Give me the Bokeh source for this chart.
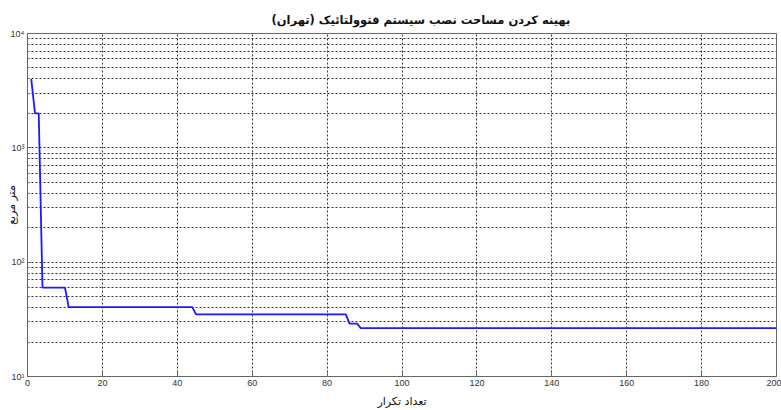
import math
from bokeh.plotting import figure
from bokeh.models import FixedTicker, Range1d
from bokeh.embed import file_html
from bokeh.resources import INLINE

# Data: iterations where the best value changes
iterations = [1, 2, 3, 4, 10, 11, 44, 45, 85, 86, 88, 89, 200]
area_m2 = [4000, 2000, 2000, 60, 60, 40.5, 40.5, 35, 35, 29, 29, 26.5, 26.5]

x_ticks = [0, 20, 40, 60, 80, 100, 120, 140, 160, 180, 200]
y_major = [10, 100, 1000, 10000]
y_minor = [20, 30, 40, 50, 60, 70, 80, 90,
           200, 300, 400, 500, 600, 700, 800, 900,
           2000, 3000, 4000, 5000, 6000, 7000, 8000, 9000]
y_labels = {10: "10¹", 100: "10²", 1000: "10³", 10000: "10⁴"}

title_text = "بهینه کردن مساحت نصب سیستم فتوولتائیک (تهران)"
x_label = "تعداد تکرار"
y_label = "متر مربع"

p = figure(width=781, height=410, y_axis_type="log",
           x_range=Range1d(0, 200), y_range=Range1d(10, 10000),
           output_backend="svg", toolbar_location=None,
           min_border_left=27, min_border_right=5,
           min_border_top=33, min_border_bottom=32)

p.background_fill_color = "white"
p.border_fill_color = "white"
p.outline_line_color = "#666666"
p.outline_line_width = 1

# title
p.title.text = title_text
p.title.align = "left"
p.title.offset = 244
p.title.text_font = "DejaVu Sans"
p.title.text_font_size = "11.5px"
p.title.text_font_style = "bold"
p.title.text_color = "#111111"
p.title.standoff = 14

axis_color = "#666666"
tick_font = "Liberation Sans"

xa = p.xaxis[0]
xa.ticker = FixedTicker(ticks=x_ticks)
xa.axis_line_color = axis_color
xa.major_tick_line_color = axis_color
xa.major_tick_in = 4
xa.major_tick_out = 0
xa.minor_tick_line_color = None
xa.major_label_text_font = tick_font
xa.major_label_text_font_size = "9px"
xa.major_label_text_color = "#333333"
xa.major_label_standoff = 3
xa.axis_label = x_label
xa.axis_label_text_font = "DejaVu Sans"
xa.axis_label_text_font_size = "11px"
xa.axis_label_text_font_style = "normal"
xa.axis_label_text_color = "#111111"
xa.axis_label_standoff = 6

ya = p.yaxis[0]
ya.ticker = FixedTicker(ticks=y_major, minor_ticks=y_minor)
ya.major_label_overrides = y_labels
ya.axis_line_color = axis_color
ya.major_tick_line_color = axis_color
ya.minor_tick_line_color = axis_color
ya.major_tick_in = 4
ya.major_tick_out = 0
ya.minor_tick_in = 2
ya.minor_tick_out = 0
ya.major_label_text_font = tick_font
ya.major_label_text_font_size = "9px"
ya.major_label_text_color = "#333333"
ya.major_label_standoff = 3
ya.axis_label = y_label
ya.axis_label_text_font = "DejaVu Sans"
ya.axis_label_text_font_size = "11px"
ya.axis_label_text_font_style = "normal"
ya.axis_label_text_color = "#111111"
ya.axis_label_standoff = -10

# grids
p.xgrid.ticker = FixedTicker(ticks=x_ticks)
p.xgrid.grid_line_color = "#333333"
p.xgrid.grid_line_dash = "2 2"
p.xgrid.grid_line_width = 1
p.ygrid.ticker = FixedTicker(ticks=y_major, minor_ticks=y_minor)
p.ygrid.grid_line_color = "#333333"
p.ygrid.grid_line_dash = "2 2"
p.ygrid.minor_grid_line_color = "#333333"
p.ygrid.minor_grid_line_dash = "2 2"

p.line(iterations, area_m2, line_color="#1a1aff", line_width=1.8)

open("out.html", "w").write(file_html(p, INLINE))
